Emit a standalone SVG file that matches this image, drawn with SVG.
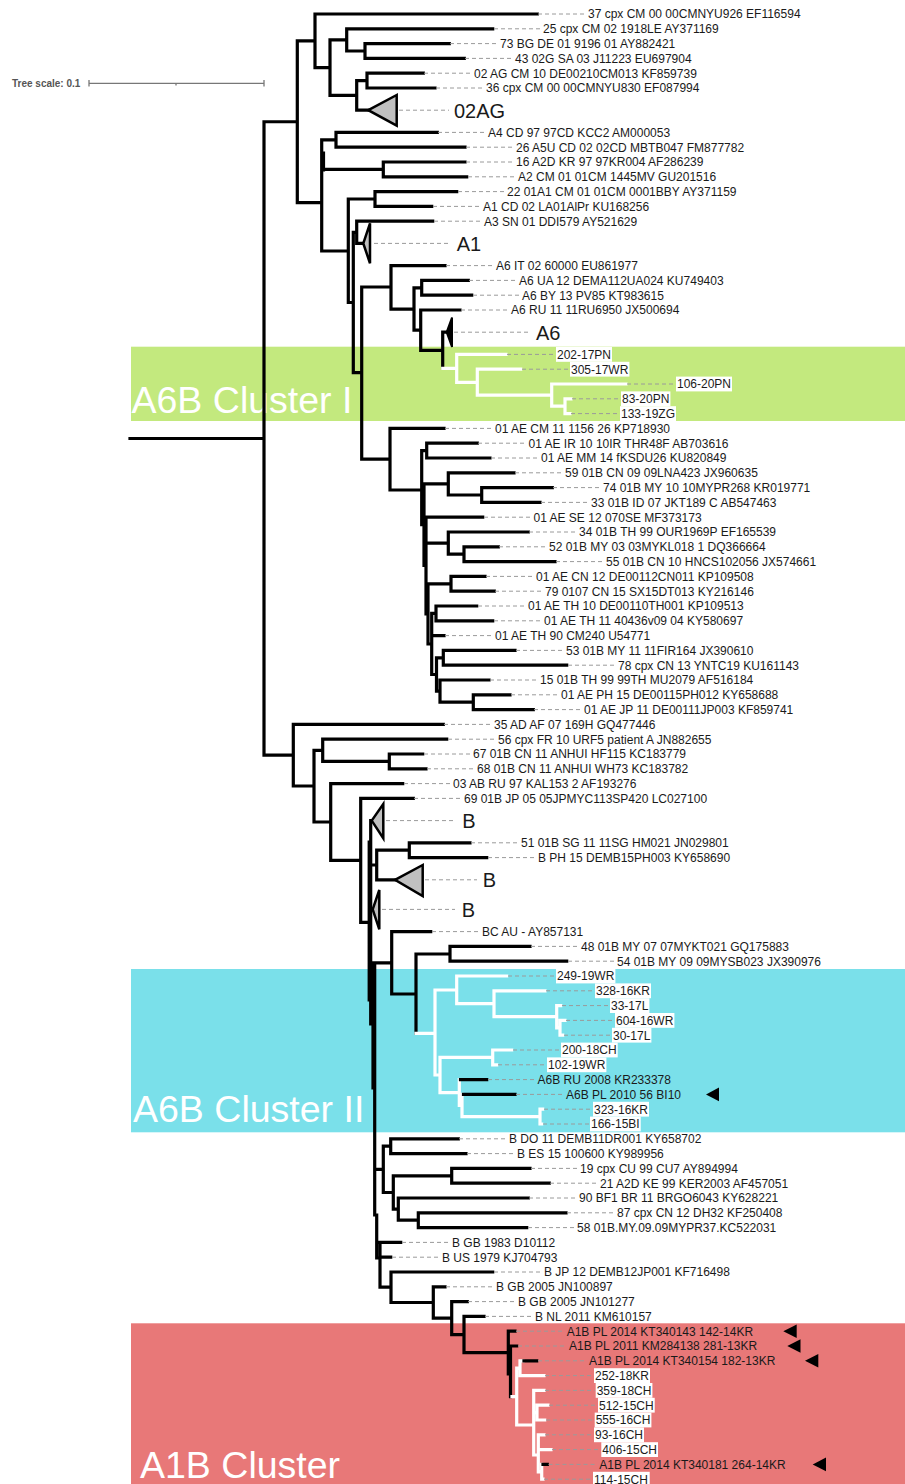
<svg xmlns="http://www.w3.org/2000/svg" width="905" height="1484" viewBox="0 0 905 1484">
<style>
.b{fill:none;stroke:#000;stroke-width:3.2;stroke-linecap:square}
.w{fill:none;stroke:#fff;stroke-width:3.2;stroke-linecap:square}
.d{stroke:#9a9a9a;stroke-width:1;stroke-dasharray:4 3}
.t{font-family:"Liberation Sans",Arial,sans-serif;font-size:12px;fill:#1a1a1a}
.bg{fill:#fff}
.big{font-family:"Liberation Sans",Arial,sans-serif;font-size:20px;fill:#1a1a1a}
.cl{font-family:"Liberation Sans",Arial,sans-serif;font-size:37.5px;fill:#fff}
.tri{fill:#c0c0c0;stroke:#000;stroke-width:2.5}
.arr{fill:#000}
</style>
<rect width="905" height="1484" fill="#fff"/>
<g id="bands">
<rect x="131" y="346.7" width="774" height="74.3" fill="#c3e97e"/>
<rect x="131" y="969" width="774" height="163.3" fill="#7ae0ea"/>
<rect x="131" y="1323.3" width="774" height="160.7" fill="#e87878"/>
<text class="cl" x="131.5" y="413">A6B Cluster I</text>
<text class="cl" x="133" y="1122">A6B Cluster II</text>
<text class="cl" x="140" y="1477.5">A1B Cluster</text>
</g>
<g id="scale">
<text x="12" y="86.5" font-family="Liberation Sans, Arial, sans-serif" font-size="10" font-weight="bold" fill="#555">Tree scale: 0.1</text>
<path d="M89,83.3 H264 M89,80 V86.5 M264,80 V86.5 M176,83.3 V85.5" stroke="#777" stroke-width="1.3" fill="none"/>
</g>
<g id="connectors">
<path class="b" d="M130,438.5 H264 M264,121.75 V755.2
M264,121.75 H297.3 M297.3,40.8 V202.7 M297.3,40.8 H315 M315,14 V67.6 M315,14 H537.3 M315,67.6 H330 M330,39.9 V95.4 M330,39.9 H346.7 M346.7,28.8 V51 M346.7,28.8 H492.7 M346.7,51 H365 M365,43.6 V58.4 M365,43.6 H449.3 M365,58.4 H464.3 M330,95.4 H356.7 M356.7,80.6 V110.2 M356.7,80.6 H367 M367,73.2 V88 M367,73.2 H423.3 M367,88 H435 M356.7,110.2 H368.3
M297.3,202.7 H321.7 M321.7,139.8 V251 M323.5,153 V170 M321.7,139.8 H336 M336,132.4 V147.2 M336,132.4 H437.3 M336,147.2 H465 M321.7,169.4 H383.3 M383.3,162 V176.8 M383.3,162 H465 M383.3,176.8 H466.7
M321.7,251 H348.3 M348.3,199 V302.5 M348.3,199 H375 M375,191.6 V206.4 M375,191.6 H456.7 M375,206.4 H431.7 M348.3,302.5 H353.3 M353.3,232.3 V372.7 M353.3,232.3 H356.7 M356.7,221.2 V243.4 M356.7,221.2 H432.7 M356.7,243.4 H363.3
M353.3,372.7 H361.7 M361.7,287 V459.2 M361.7,287 H391 M391,265.6 V309.2 M391,265.6 H445 M391,309.2 H414 M414,287.8 V330.1 M414,287.8 H421.7 M421.7,280.4 V295.2 M421.7,280.4 H468.3 M421.7,295.2 H471.7 M414,330.1 H420.7 M420.7,310 V350.3 M420.7,310 H460 M420.7,350.3 H442.7 M442.7,332.2 V368.4 M442.7,332.2 H446.7
M361.7,459.2 H390 M390,428.4 V490 M390,428.4 H444 M390,490 H421.7
M421.7,450.6 V524.7 M421.7,450.6 H426.7 M426.7,443.2 V458 M426.7,443.2 H477.3 M426.7,458 H490 M421.7,524.7 H424
M424,483.9 V565.5 M424,483.9 H448.3 M448.3,472.8 V495 M448.3,472.8 H514 M448.3,495 H481.7 M481.7,487.6 V502.4 M481.7,487.6 H552.3 M481.7,502.4 H540 M424,565.5 H426
M426,517.2 V613.9 M426,517.2 H482.7 M426,543.1 H448.3 M448.3,532 V554.2 M448.3,532 H528.3 M448.3,554.2 H464 M464,546.8 V561.6 M464,546.8 H498.3 M464,561.6 H555 M426,613.9 H428
M428,583.8 V644 M428,583.8 H451 M451,576.4 V591.2 M451,576.4 H485 M451,591.2 H494.3 M428,644 H431.7
M431.7,613.4 V674.5 M431.7,613.4 H436 M436,606 V620.8 M436,606 H476.7 M436,620.8 H492.7 M431.7,635.6 H444 M431.7,674.5 H436.5
M436.5,657.8 V691.1 M436.5,657.8 H443.3 M443.3,650.4 V665.2 M443.3,650.4 H515 M443.3,665.2 H566.7 M436.5,691.1 H440 M440,680 V702.2 M440,680 H489 M440,702.2 H473.3 M473.3,694.8 V709.6 M473.3,694.8 H510 M473.3,709.6 H533.3
M264,755.2 H293.3 M293.3,724.4 V786 M293.3,724.4 H443.3 M293.3,786 H314 M314,750.3 V822 M314,750.3 H322.7 M322.7,739.2 V761.4 M322.7,739.2 H446.7 M322.7,761.4 H389.3 M389.3,754 V768.8 M389.3,754 H422.7 M389.3,768.8 H426
M314,822 H330.7 M330.7,783.6 V860.4 M330.7,783.6 H402.7 M330.7,860.4 H360.7 M360.7,798.4 V922.4 M360.7,798.4 H413.3 M360.7,922.4 H370.7
M370.7,820.6 V1024 M369.2,842 V1000 M370.7,820.6 H371.7 M370.7,865 H376.7 M376.7,850.2 V879.8 M376.7,850.2 H409.3 M409.3,842.8 V857.6 M409.3,842.8 H470 M409.3,857.6 H486.7 M376.7,879.8 H395 M370.7,909.4 H372.7
M370.7,1024 H373 M373,962.8 V1088 M374.7,962.8 V1215 M374.7,962.8 H391.7 M391.7,931.6 V994 M391.7,931.6 H430.7 M391.7,994 H416 M416,954 V1033.3 M416,954 H450 M450,946.4 V961.2 M450,946.4 H530 M450,961.2 H566.7
M374.7,1169.3 H383.3 M383.3,1146.2 V1192.5 M383.3,1146.2 H390.7 M390.7,1138.8 V1153.6 M390.7,1138.8 H458.3 M390.7,1153.6 H466 M383.3,1192.5 H393.3 M393.3,1175.8 V1209.1 M393.3,1175.8 H451.7 M451.7,1168.4 V1183.2 M451.7,1168.4 H530 M451.7,1183.2 H549.3 M393.3,1209.1 H398.3 M398.3,1198 V1220.2 M398.3,1198 H528.3 M398.3,1220.2 H418.3 M418.3,1212.8 V1227.6 M418.3,1212.8 H566 M418.3,1227.6 H526.7
M374.7,1215 H376.7 M376.7,1215 V1258 M376.7,1242.4 H400.7 M376.7,1258 H380 M380,1242.4 V1287.2 M380,1257.2 H390.7 M380,1287.2 H391 M391,1272 V1302.5 M391,1272 H492.7 M391,1302.5 H433.3 M433.3,1286.8 V1318.1 M433.3,1286.8 H445 M433.3,1318.1 H451.7 M451.7,1301.6 V1334.6 M451.7,1301.6 H467.3 M451.7,1334.6 H464 M464,1316.4 V1352.7 M464,1316.4 H484 M464,1352.7 H508.3
M508.3,1331.2 V1374 M508.3,1331.2 H515 M510.5,1346 V1396.6 M510.5,1346 H516.7"/>
<path class="w" d="M442.7,368.4 H456.7 M456.7,354.4 V382.4 M456.7,354.4 H506 M456.7,382.4 H477.3 M477.3,369.2 V395.1 M477.3,369.2 H520.7 M477.3,395.1 H551.7 M551.7,384 V406.2 M551.7,384 H626 M551.7,406.2 H565 M565,398.8 V413.6 M565,398.8 H571 M565,413.6 H570
M416,1033.3 H435 M435,990 V1075 M435,990 H456.7 M456.7,976 V1003.7 M456.7,976 H506.7 M456.7,1003.7 H494 M494,990.8 V1016.7 M494,990.8 H545 M494,1016.7 H556.7 M556.7,1005.6 V1027.8 M556.7,1005.6 H560.7 M556.7,1027.8 H560 M560,1020.4 V1035.2 M560,1020.4 H565 M560,1035.2 H562.7
M435,1075 H440 M440,1057.4 V1092.6 M440,1057.4 H492.7 M492.7,1050 V1064.8 M492.7,1050 H511.7 M492.7,1064.8 H496.7 M440,1092.6 H459.3 M459.3,1079.6 V1105.5 M459.3,1105.5 H462 M462,1094.4 V1116.6 M462,1116.6 H540 M540,1109.2 V1124 M540,1109.2 H542.7 M540,1124 H541.7
M512,1396.6 H516.7 M516.7,1368.2 V1425 M516.7,1368.2 H520 M520,1360.8 V1375.6 M520,1360.8 H523 M520,1375.6 H544 M516.7,1425 H533.7 M533.7,1390.4 V1455 M533.7,1390.4 H544 M533.7,1412.6 H537 M537,1405.2 V1420 M537,1405.2 H548 M537,1420 H544.7 M533.7,1455 H538.3 M538.3,1434.8 V1471.8 M538.3,1434.8 H544 M538.3,1449.6 H551 M538.3,1471.8 H541.7 M541.7,1464.4 V1479.2 M541.7,1479.2 H543"/>
<path class="b" d="M460.5,1079.6 H486.7 M463.5,1094.4 H515 M524,1360.8 H536.7 M543,1464.4 H547.3"/>
</g>
<g id="collapsed">
<g id="clade-02AG"><polygon class="tri" points="368.3,110.2 396.7,95 396.7,125.7"/><line class="d" x1="399" y1="110.2" x2="449" y2="110.2"/><text class="big" x="454" y="117.5">02AG</text></g>
<g id="clade-A1"><polygon class="tri" points="363.3,243.4 370,223.3 370,263.3" stroke-width="2"/><line class="d" x1="374" y1="243.4" x2="450" y2="243.4"/><text class="big" x="456.7" y="250.7">A1</text></g>
<g id="clade-A6"><polygon points="446.7,332.2 452,317.5 452,347" fill="#000" stroke="#000" stroke-width="2"/><line class="d" x1="454" y1="332.2" x2="530" y2="332.2"/><text class="big" x="536" y="339.5">A6</text></g>
<g id="clade-B1"><polygon class="tri" points="371.7,820.6 383.3,804 383.3,838.3"/><line class="d" x1="386" y1="820.6" x2="456" y2="820.6"/><text class="big" x="462.3" y="827.9">B</text></g>
<g id="clade-B2"><polygon class="tri" points="395,879.8 422.7,865 422.7,896"/><line class="d" x1="425" y1="879.8" x2="477" y2="879.8"/><text class="big" x="482.7" y="887.1">B</text></g>
<g id="clade-B3"><polygon class="tri" points="372.7,909.4 379.3,890 379.3,929.3" stroke-width="2"/><line class="d" x1="382" y1="909.4" x2="455" y2="909.4"/><text class="big" x="461.7" y="916.7">B</text></g>
</g>
<g id="leaves">
<g id="n0"><line class="d" x1="538" y1="14" x2="586" y2="14"/><text class="t" x="588" y="18.3">37 cpx CM 00 00CMNYU926 EF116594</text></g>
<g id="n1"><line class="d" x1="494" y1="28.8" x2="541" y2="28.8"/><text class="t" x="543" y="33.1">25 cpx CM 02 1918LE AY371169</text></g>
<g id="n2"><line class="d" x1="450" y1="43.6" x2="498" y2="43.6"/><text class="t" x="500" y="47.9">73 BG DE 01 9196 01 AY882421</text></g>
<g id="n3"><line class="d" x1="465" y1="58.4" x2="513" y2="58.4"/><text class="t" x="515" y="62.7">43 02G SA 03 J11223 EU697904</text></g>
<g id="n4"><line class="d" x1="424" y1="73.2" x2="472" y2="73.2"/><text class="t" x="474" y="77.5">02 AG CM 10 DE00210CM013 KF859739</text></g>
<g id="n5"><line class="d" x1="436" y1="88" x2="484" y2="88"/><text class="t" x="486" y="92.3">36 cpx CM 00 00CMNYU830 EF087994</text></g>
<g id="n7"><line class="d" x1="438" y1="132.4" x2="486" y2="132.4"/><text class="t" x="488" y="136.7">A4 CD 97 97CD KCC2 AM000053</text></g>
<g id="n8"><line class="d" x1="466" y1="147.2" x2="514" y2="147.2"/><text class="t" x="516" y="151.5">26 A5U CD 02 02CD MBTB047 FM877782</text></g>
<g id="n9"><line class="d" x1="466" y1="162" x2="514" y2="162"/><text class="t" x="516" y="166.3">16 A2D KR 97 97KR004 AF286239</text></g>
<g id="n10"><line class="d" x1="468" y1="176.8" x2="516" y2="176.8"/><text class="t" x="518" y="181.1">A2 CM 01 01CM 1445MV GU201516</text></g>
<g id="n11"><line class="d" x1="458" y1="191.6" x2="505" y2="191.6"/><text class="t" x="507" y="195.9">22 01A1 CM 01 01CM 0001BBY AY371159</text></g>
<g id="n12"><line class="d" x1="433" y1="206.4" x2="481" y2="206.4"/><text class="t" x="483" y="210.7">A1 CD 02 LA01AlPr KU168256</text></g>
<g id="n13"><line class="d" x1="434" y1="221.2" x2="482" y2="221.2"/><text class="t" x="484" y="225.5">A3 SN 01 DDI579 AY521629</text></g>
<g id="n14"><line class="d" x1="446" y1="265.6" x2="494" y2="265.6"/><text class="t" x="496" y="269.9">A6 IT 02 60000 EU861977</text></g>
<g id="n15"><line class="d" x1="469" y1="280.4" x2="517" y2="280.4"/><text class="t" x="519" y="284.7">A6 UA 12 DEMA112UA024 KU749403</text></g>
<g id="n16"><line class="d" x1="473" y1="295.2" x2="520" y2="295.2"/><text class="t" x="522" y="299.5">A6 BY 13 PV85 KT983615</text></g>
<g id="n17"><line class="d" x1="461" y1="310" x2="509" y2="310"/><text class="t" x="511" y="314.3">A6 RU 11 11RU6950 JX500694</text></g>
<g id="n18"><line class="d" x1="507" y1="354.4" x2="555" y2="354.4"/><rect class="bg" x="556" y="347" width="56" height="14.8"/><text class="t" x="557" y="358.7">202-17PN</text></g>
<g id="n19"><line class="d" x1="522" y1="369.2" x2="569" y2="369.2"/><rect class="bg" x="570" y="361.8" width="59.4" height="14.8"/><text class="t" x="571" y="373.5">305-17WR</text></g>
<g id="n20"><line class="d" x1="627" y1="384" x2="675" y2="384"/><rect class="bg" x="676" y="376.6" width="56" height="14.8"/><text class="t" x="677" y="388.3">106-20PN</text></g>
<g id="n21"><line class="d" x1="572" y1="398.8" x2="620" y2="398.8"/><rect class="bg" x="621" y="391.4" width="49.4" height="14.8"/><text class="t" x="622" y="403.1">83-20PN</text></g>
<g id="n22"><line class="d" x1="571" y1="413.6" x2="619" y2="413.6"/><rect class="bg" x="620" y="406.2" width="56" height="14.8"/><text class="t" x="621" y="417.9">133-19ZG</text></g>
<g id="n23"><line class="d" x1="445" y1="428.4" x2="493" y2="428.4"/><text class="t" x="495" y="432.7">01 AE CM 11 1156 26 KP718930</text></g>
<g id="n24"><line class="d" x1="478" y1="443.2" x2="526.5" y2="443.2"/><text class="t" x="528.5" y="447.5">01 AE IR 10 10IR THR48F AB703616</text></g>
<g id="n25"><line class="d" x1="491" y1="458" x2="539" y2="458"/><text class="t" x="541" y="462.3">01 AE MM 14 fKSDU26 KU820849</text></g>
<g id="n26"><line class="d" x1="515" y1="472.8" x2="563" y2="472.8"/><text class="t" x="565" y="477.1">59 01B CN 09 09LNA423 JX960635</text></g>
<g id="n27"><line class="d" x1="553" y1="487.6" x2="601" y2="487.6"/><text class="t" x="603" y="491.9">74 01B MY 10 10MYPR268 KR019771</text></g>
<g id="n28"><line class="d" x1="541" y1="502.4" x2="589" y2="502.4"/><text class="t" x="591" y="506.7">33 01B ID 07 JKT189 C AB547463</text></g>
<g id="n29"><line class="d" x1="484" y1="517.2" x2="531.5" y2="517.2"/><text class="t" x="533.5" y="521.5">01 AE SE 12 070SE MF373173</text></g>
<g id="n30"><line class="d" x1="529" y1="532" x2="577" y2="532"/><text class="t" x="579" y="536.3">34 01B TH 99 OUR1969P EF165539</text></g>
<g id="n31"><line class="d" x1="499" y1="546.8" x2="547" y2="546.8"/><text class="t" x="549" y="551.1">52 01B MY 03 03MYKL018 1 DQ366664</text></g>
<g id="n32"><line class="d" x1="556" y1="561.6" x2="604" y2="561.6"/><text class="t" x="606" y="565.9">55 01B CN 10 HNCS102056 JX574661</text></g>
<g id="n33"><line class="d" x1="486" y1="576.4" x2="534" y2="576.4"/><text class="t" x="536" y="580.7">01 AE CN 12 DE00112CN011 KP109508</text></g>
<g id="n34"><line class="d" x1="495" y1="591.2" x2="543" y2="591.2"/><text class="t" x="545" y="595.5">79 0107 CN 15 SX15DT013 KY216146</text></g>
<g id="n35"><line class="d" x1="478" y1="606" x2="526" y2="606"/><text class="t" x="528" y="610.3">01 AE TH 10 DE00110TH001 KP109513</text></g>
<g id="n36"><line class="d" x1="494" y1="620.8" x2="542" y2="620.8"/><text class="t" x="544" y="625.1">01 AE TH 11 40436v09 04 KY580697</text></g>
<g id="n37"><line class="d" x1="445" y1="635.6" x2="493" y2="635.6"/><text class="t" x="495" y="639.9">01 AE TH 90 CM240 U54771</text></g>
<g id="n38"><line class="d" x1="516" y1="650.4" x2="564" y2="650.4"/><text class="t" x="566" y="654.7">53 01B MY 11 11FIR164 JX390610</text></g>
<g id="n39"><line class="d" x1="568" y1="665.2" x2="616" y2="665.2"/><text class="t" x="618" y="669.5">78 cpx CN 13 YNTC19 KU161143</text></g>
<g id="n40"><line class="d" x1="490" y1="680" x2="538" y2="680"/><text class="t" x="540" y="684.3">15 01B TH 99 99TH MU2079 AF516184</text></g>
<g id="n41"><line class="d" x1="511" y1="694.8" x2="559" y2="694.8"/><text class="t" x="561" y="699.1">01 AE PH 15 DE00115PH012 KY658688</text></g>
<g id="n42"><line class="d" x1="534" y1="709.6" x2="582" y2="709.6"/><text class="t" x="584" y="713.9">01 AE JP 11 DE00111JP003 KF859741</text></g>
<g id="n43"><line class="d" x1="444" y1="724.4" x2="492" y2="724.4"/><text class="t" x="494" y="728.7">35 AD AF 07 169H GQ477446</text></g>
<g id="n44"><line class="d" x1="448" y1="739.2" x2="496" y2="739.2"/><text class="t" x="498" y="743.5">56 cpx FR 10 URF5 patient A JN882655</text></g>
<g id="n45"><line class="d" x1="424" y1="754" x2="471" y2="754"/><text class="t" x="473" y="758.3">67 01B CN 11 ANHUI HF115 KC183779</text></g>
<g id="n46"><line class="d" x1="427" y1="768.8" x2="475" y2="768.8"/><text class="t" x="477" y="773.1">68 01B CN 11 ANHUI WH73 KC183782</text></g>
<g id="n47"><line class="d" x1="404" y1="783.6" x2="451" y2="783.6"/><text class="t" x="453" y="787.9">03 AB RU 97 KAL153 2 AF193276</text></g>
<g id="n48"><line class="d" x1="414" y1="798.4" x2="462" y2="798.4"/><text class="t" x="464" y="802.7">69 01B JP 05 05JPMYC113SP420 LC027100</text></g>
<g id="n49"><line class="d" x1="471" y1="842.8" x2="519" y2="842.8"/><text class="t" x="521" y="847.1">51 01B SG 11 11SG HM021 JN029801</text></g>
<g id="n50"><line class="d" x1="488" y1="857.6" x2="536" y2="857.6"/><text class="t" x="538" y="861.9">B PH 15 DEMB15PH003 KY658690</text></g>
<g id="n51"><line class="d" x1="432" y1="931.6" x2="480" y2="931.6"/><text class="t" x="482" y="935.9">BC AU - AY857131</text></g>
<g id="n52"><line class="d" x1="531" y1="946.4" x2="579" y2="946.4"/><text class="t" x="581" y="950.7">48 01B MY 07 07MYKT021 GQ175883</text></g>
<g id="n53"><line class="d" x1="568" y1="961.2" x2="615" y2="961.2"/><text class="t" x="617" y="965.5">54 01B MY 09 09MYSB023 JX390976</text></g>
<g id="n54"><line class="d" x1="508" y1="976" x2="555" y2="976"/><rect class="bg" x="556" y="968.6" width="59.4" height="14.8"/><text class="t" x="557" y="980.3">249-19WR</text></g>
<g id="n55"><line class="d" x1="546" y1="990.8" x2="594" y2="990.8"/><rect class="bg" x="595" y="983.4" width="56" height="14.8"/><text class="t" x="596" y="995.1">328-16KR</text></g>
<g id="n56"><line class="d" x1="562" y1="1005.6" x2="609" y2="1005.6"/><rect class="bg" x="610" y="998.2" width="39.4" height="14.8"/><text class="t" x="611" y="1009.9">33-17L</text></g>
<g id="n57"><line class="d" x1="566" y1="1020.4" x2="614" y2="1020.4"/><rect class="bg" x="615" y="1013" width="59.4" height="14.8"/><text class="t" x="616" y="1024.7">604-16WR</text></g>
<g id="n58"><line class="d" x1="564" y1="1035.2" x2="611" y2="1035.2"/><rect class="bg" x="612" y="1027.8" width="39.4" height="14.8"/><text class="t" x="613" y="1039.5">30-17L</text></g>
<g id="n59"><line class="d" x1="513" y1="1050" x2="560" y2="1050"/><rect class="bg" x="561" y="1042.6" width="56.7" height="14.8"/><text class="t" x="562" y="1054.3">200-18CH</text></g>
<g id="n60"><line class="d" x1="498" y1="1064.8" x2="546" y2="1064.8"/><rect class="bg" x="547" y="1057.4" width="59.4" height="14.8"/><text class="t" x="548" y="1069.1">102-19WR</text></g>
<g id="n61"><line class="d" x1="488" y1="1079.6" x2="535.5" y2="1079.6"/><text class="t" x="537.5" y="1083.9">A6B RU 2008 KR233378</text></g>
<g id="n62"><line class="d" x1="516" y1="1094.4" x2="564" y2="1094.4"/><text class="t" x="566" y="1098.7">A6B PL 2010 56 BI10</text><polygon class="arr" points="706,1094.4 719,1087.5 719,1101.3"/></g>
<g id="n63"><line class="d" x1="544" y1="1109.2" x2="592" y2="1109.2"/><rect class="bg" x="593" y="1101.8" width="56" height="14.8"/><text class="t" x="594" y="1113.5">323-16KR</text></g>
<g id="n64"><line class="d" x1="543" y1="1124" x2="589" y2="1124"/><rect class="bg" x="590" y="1116.6" width="50.7" height="14.8"/><text class="t" x="591" y="1128.3">166-15BI</text></g>
<g id="n65"><line class="d" x1="459" y1="1138.8" x2="507" y2="1138.8"/><text class="t" x="509" y="1143.1">B DO 11 DEMB11DR001 KY658702</text></g>
<g id="n66"><line class="d" x1="467" y1="1153.6" x2="515" y2="1153.6"/><text class="t" x="517" y="1157.9">B ES 15 100600 KY989956</text></g>
<g id="n67"><line class="d" x1="531" y1="1168.4" x2="578" y2="1168.4"/><text class="t" x="580" y="1172.7">19 cpx CU 99 CU7 AY894994</text></g>
<g id="n68"><line class="d" x1="550" y1="1183.2" x2="598" y2="1183.2"/><text class="t" x="600" y="1187.5">21 A2D KE 99 KER2003 AF457051</text></g>
<g id="n69"><line class="d" x1="529" y1="1198" x2="577" y2="1198"/><text class="t" x="579" y="1202.3">90 BF1 BR 11 BRGO6043 KY628221</text></g>
<g id="n70"><line class="d" x1="567" y1="1212.8" x2="615" y2="1212.8"/><text class="t" x="617" y="1217.1">87 cpx CN 12 DH32 KF250408</text></g>
<g id="n71"><line class="d" x1="528" y1="1227.6" x2="575" y2="1227.6"/><text class="t" x="577" y="1231.9">58 01B.MY.09.09MYPR37.KC522031</text></g>
<g id="n72"><line class="d" x1="402" y1="1242.4" x2="450" y2="1242.4"/><text class="t" x="452" y="1246.7">B GB 1983 D10112</text></g>
<g id="n73"><line class="d" x1="392" y1="1257.2" x2="440" y2="1257.2"/><text class="t" x="442" y="1261.5">B US 1979 KJ704793</text></g>
<g id="n74"><line class="d" x1="494" y1="1272" x2="542" y2="1272"/><text class="t" x="544" y="1276.3">B JP 12 DEMB12JP001 KF716498</text></g>
<g id="n75"><line class="d" x1="446" y1="1286.8" x2="494" y2="1286.8"/><text class="t" x="496" y="1291.1">B GB 2005 JN100897</text></g>
<g id="n76"><line class="d" x1="468" y1="1301.6" x2="516" y2="1301.6"/><text class="t" x="518" y="1305.9">B GB 2005 JN101277</text></g>
<g id="n77"><line class="d" x1="485" y1="1316.4" x2="533" y2="1316.4"/><text class="t" x="535" y="1320.7">B NL 2011 KM610157</text></g>
<g id="n78"><line class="d" x1="516" y1="1331.2" x2="564.7" y2="1331.2"/><text class="t" x="566.7" y="1335.5">A1B PL 2014 KT340143 142-14KR</text><polygon class="arr" points="783.3,1331.2 796.7,1324.4 796.7,1338"/></g>
<g id="n79"><line class="d" x1="518" y1="1346" x2="567" y2="1346"/><text class="t" x="569" y="1350.3">A1B PL 2011 KM284138 281-13KR</text><polygon class="arr" points="787.3,1346 800.5,1339.2 800.5,1352.8"/></g>
<g id="n80"><line class="d" x1="538" y1="1360.8" x2="587" y2="1360.8"/><text class="t" x="589" y="1365.1">A1B PL 2014 KT340154 182-13KR</text><polygon class="arr" points="805,1360.8 818.3,1354 818.3,1367.6"/></g>
<g id="n81"><line class="d" x1="545" y1="1375.6" x2="593" y2="1375.6"/><rect class="bg" x="594" y="1368.2" width="56" height="14.8"/><text class="t" x="595" y="1379.9">252-18KR</text></g>
<g id="n82"><line class="d" x1="545" y1="1390.4" x2="594.7" y2="1390.4"/><rect class="bg" x="595.7" y="1383" width="56.7" height="14.8"/><text class="t" x="596.7" y="1394.7">359-18CH</text></g>
<g id="n83"><line class="d" x1="549" y1="1405.2" x2="597" y2="1405.2"/><rect class="bg" x="598" y="1397.8" width="56.7" height="14.8"/><text class="t" x="599" y="1409.5">512-15CH</text></g>
<g id="n84"><line class="d" x1="546" y1="1420" x2="593.7" y2="1420"/><rect class="bg" x="594.7" y="1412.6" width="56.7" height="14.8"/><text class="t" x="595.7" y="1424.3">555-16CH</text></g>
<g id="n85"><line class="d" x1="545" y1="1434.8" x2="593" y2="1434.8"/><rect class="bg" x="594" y="1427.4" width="50" height="14.8"/><text class="t" x="595" y="1439.1">93-16CH</text></g>
<g id="n86"><line class="d" x1="552" y1="1449.6" x2="600.3" y2="1449.6"/><rect class="bg" x="601.3" y="1442.2" width="56.7" height="14.8"/><text class="t" x="602.3" y="1453.9">406-15CH</text></g>
<g id="n87"><line class="d" x1="548.5" y1="1464.4" x2="597.3" y2="1464.4"/><text class="t" x="599.3" y="1468.7">A1B PL 2014 KT340181 264-14KR</text><polygon class="arr" points="812.7,1464.4 826,1457.6 826,1471.2"/></g>
<g id="n88"><line class="d" x1="544" y1="1479.2" x2="592" y2="1479.2"/><rect class="bg" x="593" y="1471.8" width="56.7" height="14.8"/><text class="t" x="594" y="1483.5">114-15CH</text></g>
</g>
</svg>
